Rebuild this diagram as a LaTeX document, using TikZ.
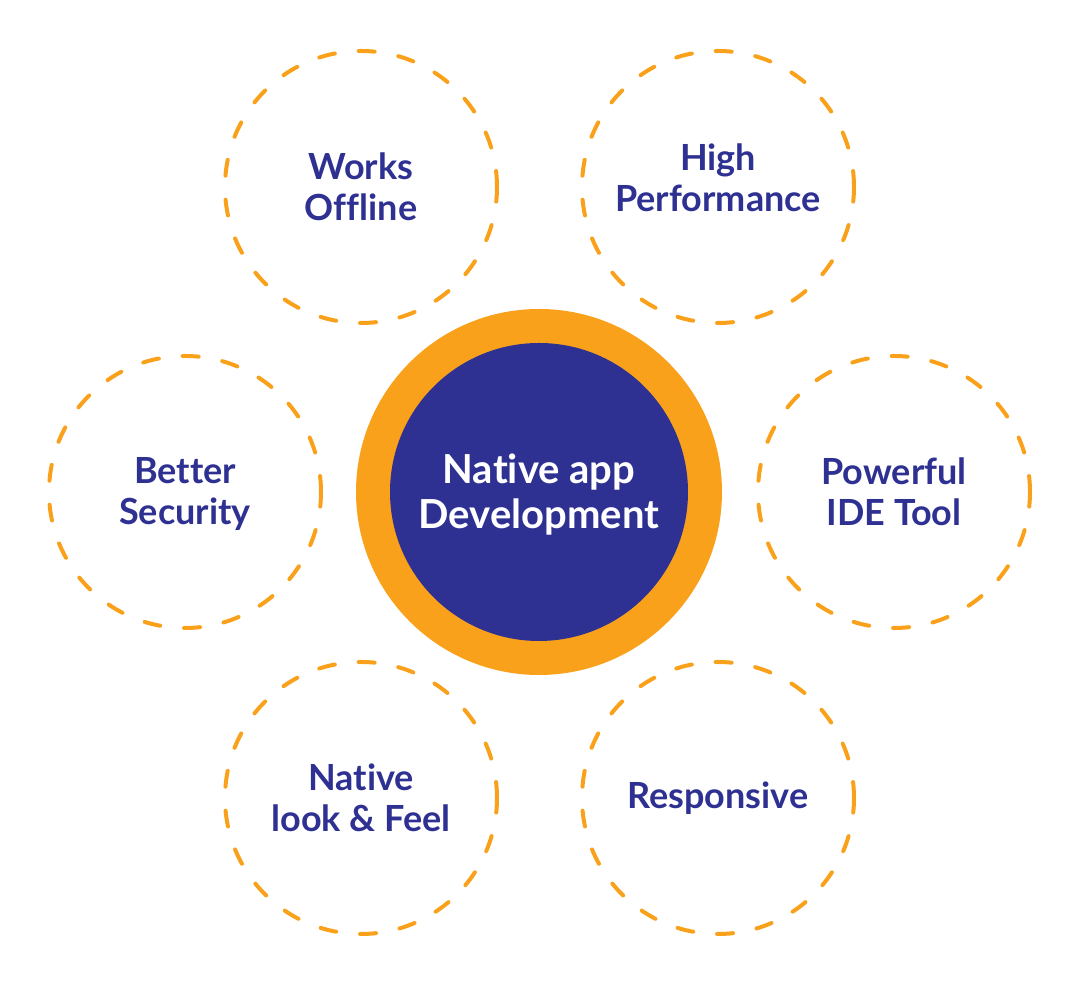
\documentclass[tikz,border=0pt]{standalone}
\usepackage{fontspec}
\setmainfont{Lato}[Ligatures=NoCommon]
\definecolor{navy}{HTML}{2E3192}
\definecolor{amber}{HTML}{F9A11B}
\begin{document}
\begin{tikzpicture}[x=1pt,y=1pt,
  feature/.style={circle,draw=amber,line width=4pt,dash pattern=on 16pt off 24pt,line cap=round,minimum size=272pt,inner sep=0pt,text=navy,align=center,font=\fontsize{36}{41}\selectfont\bfseries},
  featuretext/.style={text=navy,align=center,inner sep=0pt,font=\fontsize{36}{41}\selectfont\bfseries},
  ring/.style={circle,fill=amber,minimum size=366pt,inner sep=0pt},
  core/.style={circle,fill=navy,minimum size=298pt,inner sep=0pt},
  coretext/.style={text=white,align=center,inner sep=0pt,font=\fontsize{40}{45}\selectfont\bfseries}]
\useasboundingbox (0,0) rectangle (1080,984);
\node[ring] (ring) at (539,492) {};
\node[core] (core) at (539,492) {};
\node[coretext] (coret) at (539,489) {Native app\\Development};
\node[feature] (offline) at (361,797) {Works\\Offline};
\node[feature] (perf) at (718,797) {};
\node[featuretext] (perft) at (718,806) {High\\Performance};
\node[feature] (sec) at (185,492) {};
\node[featuretext] (sect) at (185,490) {Better\\Security};
\node[feature] (ide) at (894,492) {Powerful\\IDE Tool};
\node[feature] (look) at (361,186) {Native\\look \& Feel};
\node[feature] (resp) at (718,186) {Responsive};
\end{tikzpicture}
\end{document}
